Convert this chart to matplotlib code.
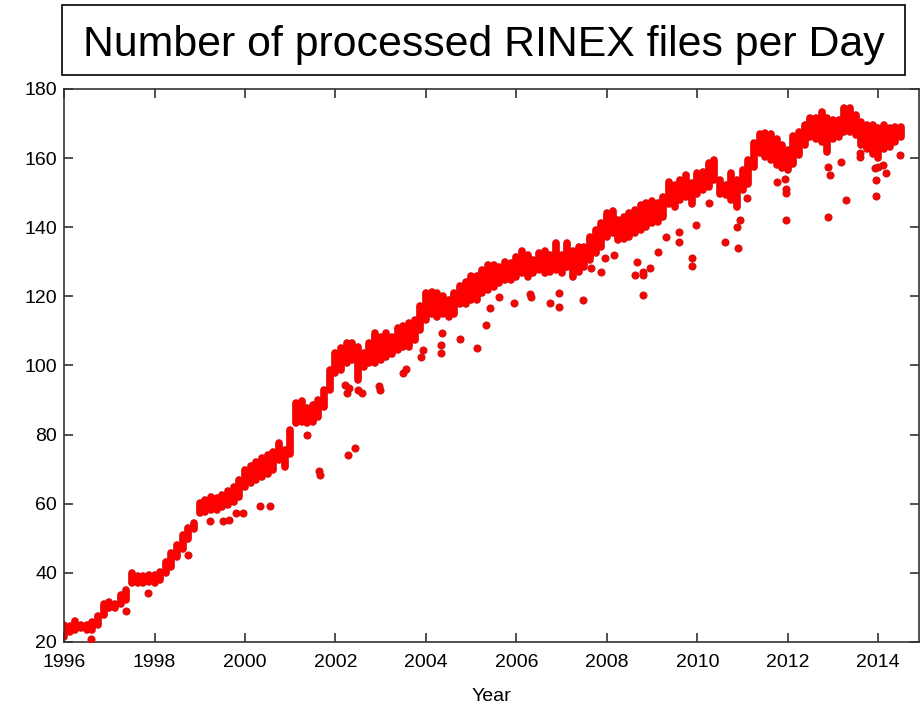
import numpy as np
import matplotlib
matplotlib.use('Agg')
import matplotlib.pyplot as plt
from matplotlib.patches import Rectangle

plt.rcParams['font.family'] = ['Liberation Sans', 'DejaVu Sans']

# daily file counts, summarised every 1/8 year as the upper and lower edge of the daily spread
first_year = 1996.0
step = 0.125
band_top = [
    25.9, 25.4, 27.0, 25.9, 25.9, 26.8, 28.3, 32.0,
    32.6, 32.0, 34.6, 36.0, 40.8, 39.9, 39.9, 40.3,
    40.3, 41.3, 44.2, 46.6, 49.0, 51.9, 53.8, 55.3,
    61.0, 62.0, 63.0, 62.5, 63.5, 64.5, 65.9, 67.8,
    70.7, 71.7, 73.1, 74.1, 75.1, 76.0, 78.4, 76.5,
    82.3, 90.0, 90.5, 88.6, 89.5, 91.0, 93.9, 99.7,
    104.5, 105.9, 107.4, 107.4, 106.4, 104.5, 107.4, 110.3,
    109.3, 110.3, 109.3, 111.7, 112.2, 113.2, 114.1, 118.0,
    121.8, 122.3, 121.8, 120.9, 119.9, 121.8, 123.8, 125.2,
    126.7, 126.7, 128.6, 130.0, 130.0, 129.5, 131.0, 130.5,
    132.4, 133.9, 132.9, 131.5, 133.4, 133.9, 132.9, 136.3,
    132.9, 136.3, 133.9, 135.3, 135.3, 138.2, 140.2, 142.1,
    145.0, 145.5, 143.0, 144.0, 145.0, 145.9, 147.4, 147.9,
    148.4, 147.9, 149.8, 154.1, 153.2, 154.6, 156.1, 153.7,
    156.5, 157.0, 159.4, 160.4, 154.6, 153.2, 156.5, 154.6,
    157.5, 160.4, 165.2, 168.0, 168.3, 168.0, 166.5, 164.7,
    163.3, 167.2, 168.6, 170.5, 172.5, 172.5, 174.4, 172.5,
    172.0, 172.0, 175.4, 175.4, 173.4, 171.5, 170.5, 170.5,
    169.6, 170.5, 169.6, 170.0, 170.0,
]
band_low = [
    20.6, 22.0, 22.5, 23.0, 22.5, 22.5, 24.0, 26.8,
    28.8, 28.8, 30.2, 31.2, 36.0, 36.0, 36.0, 36.5,
    36.0, 37.0, 38.9, 40.8, 43.7, 46.1, 49.0, 51.9,
    56.3, 56.7, 57.2, 57.2, 58.2, 58.7, 59.6, 61.0,
    64.0, 65.0, 65.9, 66.9, 67.8, 68.8, 71.7, 69.8,
    73.6, 82.3, 82.8, 82.3, 82.8, 84.2, 87.1, 91.9,
    96.8, 97.7, 99.7, 100.6, 95.0, 98.7, 99.7, 99.7,
    100.6, 101.6, 102.5, 103.5, 104.5, 104.5, 106.5, 109.3,
    112.2, 114.1, 113.2, 114.1, 113.2, 114.1, 117.0, 117.0,
    118.0, 118.0, 119.9, 120.9, 121.8, 122.8, 123.8, 123.8,
    124.7, 125.7, 124.7, 125.7, 126.7, 125.7, 126.2, 126.7,
    125.7, 127.6, 124.7, 126.2, 127.6, 129.5, 131.5, 133.4,
    136.3, 137.3, 135.3, 135.8, 136.3, 137.3, 138.2, 139.2,
    140.2, 140.6, 142.1, 145.9, 145.0, 146.9, 147.9, 145.9,
    148.8, 149.8, 150.8, 152.7, 148.8, 148.4, 146.9, 145.0,
    149.8, 151.7, 156.5, 160.5, 159.5, 158.5, 157.0, 156.1,
    155.6, 157.5, 159.9, 162.8, 165.2, 164.7, 163.8, 160.9,
    164.7, 165.2, 166.7, 166.7, 165.7, 162.8, 161.8, 160.4,
    159.0, 161.8, 162.3, 163.8, 165.2,
]

# single days that fall well below the bulk
outlier_year = [
    1996.59, 1997.38, 1997.86, 1998.74, 1999.23, 1999.52, 1999.65, 1999.80,
    1999.96, 2000.33, 2000.55, 2001.38, 2001.64, 2001.66, 2002.28, 2002.43,
    2002.22, 2002.25, 2002.30, 2002.50, 2002.58, 2002.96, 2002.98, 2003.50,
    2003.56, 2003.90, 2003.94, 2004.33, 2004.33, 2004.35, 2004.75, 2005.12,
    2005.33, 2005.41, 2005.62, 2005.94, 2006.31, 2006.33, 2006.74, 2006.94,
    2006.95, 2007.48, 2007.66, 2007.86, 2007.96, 2008.15, 2008.62, 2008.66,
    2008.80, 2008.80, 2008.80, 2008.95, 2009.13, 2009.30, 2009.60, 2009.60,
    2009.89, 2009.89, 2009.98, 2010.26, 2010.61, 2010.87, 2010.90, 2010.94,
    2011.09, 2011.75, 2011.93, 2011.97, 2011.97, 2011.97, 2012.89, 2012.93,
    2012.89, 2013.18, 2013.28, 2013.59, 2013.59, 2013.92, 2013.96, 2013.96,
    2014.00, 2014.11, 2014.18, 2014.47,
]
outlier_val = [
    21.0, 29.1, 34.1, 45.2, 55.1, 55.1, 55.3, 57.4,
    57.2, 59.2, 59.2, 79.9, 69.5, 68.2, 74.1, 76.0,
    94.3, 91.9, 93.5, 93.0, 91.9, 94.0, 92.9, 97.9,
    99.0, 102.5, 104.5, 105.9, 103.5, 109.3, 107.8, 105.0,
    111.7, 116.5, 119.9, 118.0, 120.7, 119.9, 118.0, 117.0,
    120.9, 118.9, 128.1, 127.1, 131.0, 132.0, 126.2, 130.0,
    126.2, 127.1, 120.4, 128.1, 132.9, 137.3, 138.7, 135.8,
    131.0, 128.8, 140.6, 146.9, 135.8, 140.2, 133.9, 142.1,
    148.4, 153.2, 153.9, 151.0, 150.0, 142.1, 157.5, 155.1,
    143.0, 159.0, 147.9, 160.4, 161.4, 157.0, 153.7, 149.1,
    157.5, 158.0, 155.6, 160.9,
]

year_ticks = list(range(1996, 2015, 2))
count_ticks = list(range(20, 181, 20))

sample_year = first_year + step * np.arange(len(band_top))
band_top = np.array(band_top)
band_low = np.array(band_low)

fig = plt.figure(figsize=(9.24, 7.06), dpi=100)
ax = fig.add_axes([0.0693, 0.0907, 0.9253, 0.7833])
ax.set_xlim(1996, 2014.9)
ax.set_ylim(20, 180)

red = '#ff0000'
edge_red = '#c81414'
lw = 4.6  # points
# round caps stick out by half the line width, so pull the ends in by that much
units_per_pt = 160 / (ax.get_position().height * fig.get_figheight() * 72)
r = lw / 2 * units_per_pt
lo = np.minimum(band_low + r, (band_low + band_top) / 2)
hi = np.maximum(band_top - r, lo)

ax.vlines(sample_year, lo, hi, colors=edge_red, linewidth=lw + 0.9,
          capstyle='round', zorder=2)
ax.vlines(sample_year, lo, hi, colors=red, linewidth=lw,
          capstyle='round', zorder=2.5)
ax.scatter(outlier_year, outlier_val, s=26, facecolor=red, edgecolor=edge_red,
           linewidth=0.7, zorder=3)

ax.set_xticks(year_ticks)
ax.set_yticks(count_ticks)
ax.tick_params(direction='in', length=6.5, width=1.2, color='#333333',
               top=True, right=True, labelsize=14, pad=5)
ax.tick_params(axis='x', pad=9)
for s in ax.spines.values():
    s.set_color('#333333')
    s.set_linewidth(1.2)
ax.set_xlabel('Year', fontsize=14, labelpad=12)

# boxed heading above the axes
fig.add_artist(Rectangle((0.0671, 0.8938), 0.912, 0.099, transform=fig.transFigure,
                         fill=False, edgecolor='black', linewidth=1.2))
fig.text(0.0671 + 0.912 / 2, 0.936, 'Number of processed RINEX files per Day',
         ha='center', va='center', fontsize=30.8)

fig.savefig('out.png', dpi=100)
